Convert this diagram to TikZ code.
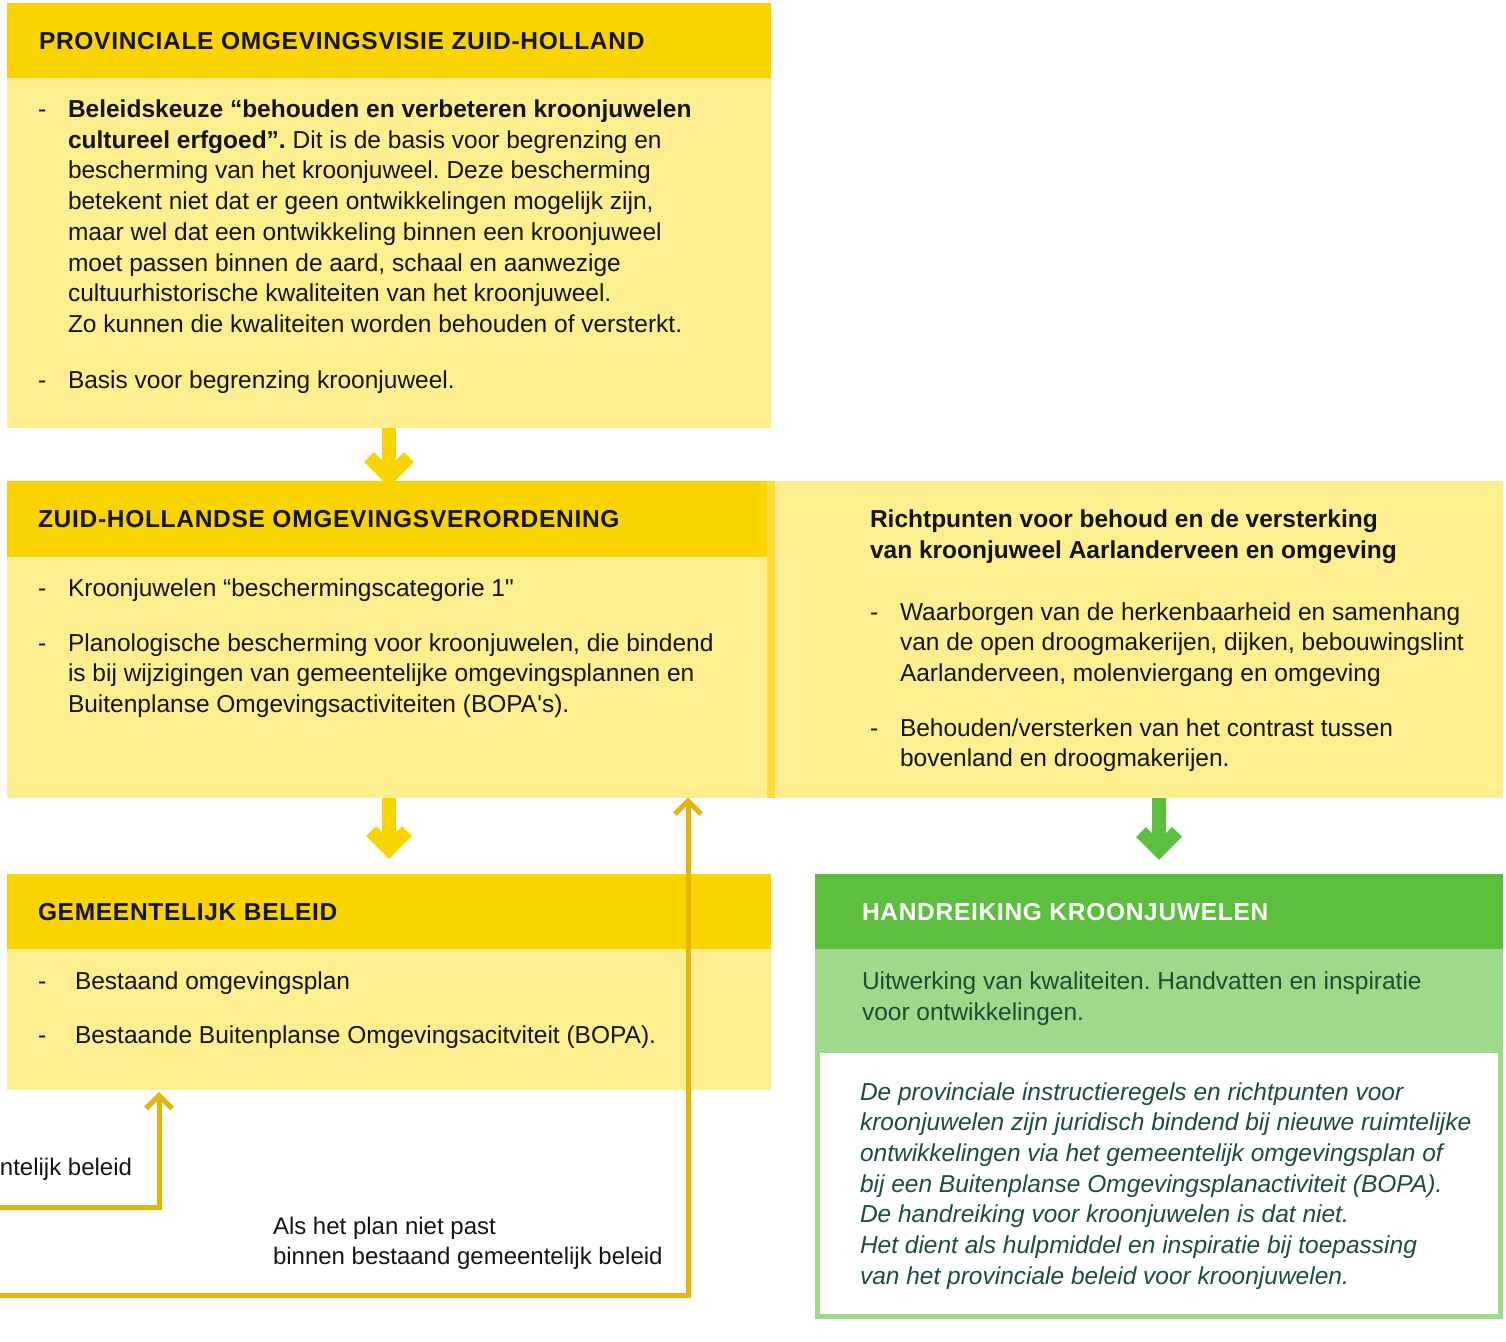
\documentclass[tikz,border=0pt]{standalone}
\usepackage{fontspec}
\setmainfont{Liberation Sans}[Ligatures=TeXOff]
\usetikzlibrary{calc}
\definecolor{hdr}{HTML}{FAD400}
\definecolor{lite}{HTML}{FDEE8F}
\definecolor{stripe}{HTML}{FEDC3A}
\definecolor{conn}{HTML}{E4B60D}
\definecolor{grn}{HTML}{5BBE3D}
\definecolor{lgrn}{HTML}{9FD98B}
\definecolor{dgrn}{HTML}{1C4E35}
\definecolor{ink}{HTML}{141414}
\newcommand\tlines[5]{%
  \foreach \ltext [count=\i from 0] in {#5} {\node[#2] (#1\i) at (#3,{#4+\i*30.7}) {\ltext};}}
\frenchspacing
\begin{document}
\begin{tikzpicture}[x=1pt,y=-1pt,
  box/.style={draw=none,inner sep=0,outer sep=0,anchor=north west},
  txt/.style={anchor=base west,inner sep=0,outer sep=0,text=ink,font=\fontsize{24.5}{30.7}\selectfont},
  lbltxt/.style={txt,font=\fontsize{24}{30.7}\selectfont},
  hdrtxt/.style={txt,font=\fontsize{24.5}{30}\selectfont\bfseries\addfontfeature{LetterSpace=2.9}},
  bigarr/.style={line width=14pt,line join=miter},
  thinarr/.style={line width=5pt,draw=conn,line join=miter}]
\useasboundingbox (0,0) rectangle (1506,1341);
% boxes
\node[box,fill=hdr,minimum width=764pt,minimum height=75pt] (b1h) at (7,3) {};
\node[box,fill=lite,minimum width=764pt,minimum height=350pt] (b1b) at (7,78) {};
\node[box,fill=hdr,minimum width=764pt,minimum height=76pt] (b2h) at (7,481) {};
\node[box,fill=lite,minimum width=760pt,minimum height=241pt] (b2b) at (7,557) {};
\node[box,fill=stripe,minimum width=8pt,minimum height=317pt] (strp) at (767,481) {};
\node[box,fill=lite,minimum width=728pt,minimum height=317pt] (rb) at (775,481) {};
\node[box,fill=hdr,minimum width=764pt,minimum height=75pt] (b3h) at (7,874) {};
\node[box,fill=lite,minimum width=764pt,minimum height=141pt] (b3b) at (7,949) {};
\node[box,fill=grn,minimum width=688pt,minimum height=75pt] (gh) at (815,874) {};
\node[box,fill=lgrn,minimum width=688pt,minimum height=370pt] (gb) at (815,949) {};
\node[box,fill=white,minimum width=678pt,minimum height=261pt] (gw) at (820,1053) {};
% big arrows
\draw[bigarr,hdr] (b1b.south) -- ++(0,49);
\draw[bigarr,hdr] ($(b1b.south)+(-20,29)$) -- ++(20,20) -- ++(20,-20);
\coordinate (a2) at (b3h.north |- b2b.south);
\draw[bigarr,hdr] (a2) -- ++(0,51);
\draw[bigarr,hdr] ($(a2)+(-18,33)$) -- ++(18,18) -- ++(18,-18);
\coordinate (a3) at (gh.north |- rb.south);
\draw[bigarr,grn] (a3) -- ++(0,52);
\draw[bigarr,grn] ($(a3)+(-18,34)$) -- ++(18,18) -- ++(18,-18);
% feedback connectors
\coordinate (e1) at (0,1207);
\coordinate (t1) at ($(b3b.south west)+(152,5.5)$);
\draw[thinarr] (e1) -| (t1);
\draw[thinarr] ($(t1)+(-13,13)$) -- (t1) -- ++(13,13);
\coordinate (e2) at (0,1295);
\coordinate (t2) at ($(b2b.south west)+(681,3)$);
\draw[thinarr] (e2) -| (t2);
\draw[thinarr] ($(t2)+(-13,13)$) -- (t2) -- ++(13,13);
% headers
\node[hdrtxt] (h1) at (39,49.3) {PROVINCIALE OMGEVINGSVISIE ZUID-HOLLAND};
\node[hdrtxt] (h2) at (38,527.3) {ZUID-HOLLANDSE OMGEVINGSVERORDENING};
\node[hdrtxt] (h3) at (38,920.3) {GEMEENTELIJK BELEID};
\node[hdrtxt,text=white] (h4) at (862,920.3) {HANDREIKING KROONJUWELEN};
% box 1
\node[txt] (d11) at (38,117.5) {-};
\tlines{p1l}{txt}{68}{117.5}{{\textbf{Beleidskeuze “behouden en verbeteren kroonjuwelen}},
{\textbf{cultureel erfgoed”.} Dit is de basis voor begrenzing en},
{bescherming van het kroonjuweel. Deze bescherming},
{betekent niet dat er geen ontwikkelingen mogelijk zijn,},
{maar wel dat een ontwikkeling binnen een kroonjuweel},
{moet passen binnen de aard, schaal en aanwezige},
{cultuurhistorische kwaliteiten van het kroonjuweel.},
{Zo kunnen die kwaliteiten worden behouden of versterkt.}}
\node[txt] (d12) at (38,388.3) {-};
\node[txt] (p2) at (68,388.3) {Basis voor begrenzing kroonjuweel.};
% box 2
\node[txt] (d21) at (38,596) {-};
\node[txt] (p3) at (68,596) {Kroonjuwelen “beschermingscategorie 1"};
\node[txt] (d22) at (38,651) {-};
\tlines{p4l}{txt}{68}{651}{{Planologische bescherming voor kroonjuwelen, die bindend},
{is bij wijzigingen van gemeentelijke omgevingsplannen en},
{Buitenplanse Omgevingsactiviteiten (BOPA's).}}
% right box
\tlines{rhl}{txt,font=\fontsize{24.5}{30.7}\selectfont\bfseries}{870}{527.5}{{Richtpunten voor behoud en de versterking},
{van kroonjuweel Aarlanderveen en omgeving}}
\node[txt] (d31) at (870,620) {-};
\tlines{r1l}{txt}{900}{620}{{Waarborgen van de herkenbaarheid en samenhang},
{van de open droogmakerijen, dijken, bebouwingslint},
{Aarlanderveen, molenviergang en omgeving}}
\node[txt] (d32) at (870,736) {-};
\tlines{r2l}{txt}{900}{736}{{Behouden/versterken van het contrast tussen},
{bovenland en droogmakerijen.}}
% box 3
\node[txt] (d41) at (38,989) {-};
\node[txt] (p5) at (75,989) {Bestaand omgevingsplan};
\node[txt] (d42) at (38,1043) {-};
\node[txt] (p6) at (75,1043) {Bestaande Buitenplanse Omgevingsacitviteit (BOPA).};
% green box
\tlines{g1l}{txt,text=dgrn}{862}{989.5}{{Uitwerking van kwaliteiten. Handvatten en inspiratie},
{voor ontwikkelingen.}}
\tlines{g2l}{txt,text=dgrn,font=\fontsize{24.5}{30.7}\selectfont\itshape}{860}{1100}{{De provinciale instructieregels en richtpunten voor},
{kroonjuwelen zijn juridisch bindend bij nieuwe ruimtelijke},
{ontwikkelingen via het gemeentelijk omgevingsplan of},
{bij een Buitenplanse Omgevingsplanactiviteit (BOPA).},
{De handreiking voor kroonjuwelen is dat niet.},
{Het dient als hulpmiddel en inspiratie bij toepassing},
{van het provinciale beleid voor kroonjuwelen.}}
% connector labels
\node[lbltxt,anchor=base east] (l1) at (132,1175) {ntelijk beleid};
\tlines{l2l}{lbltxt}{273}{1234}{{Als het plan niet past},
{binnen bestaand gemeentelijk beleid}}
\end{tikzpicture}
\end{document}
